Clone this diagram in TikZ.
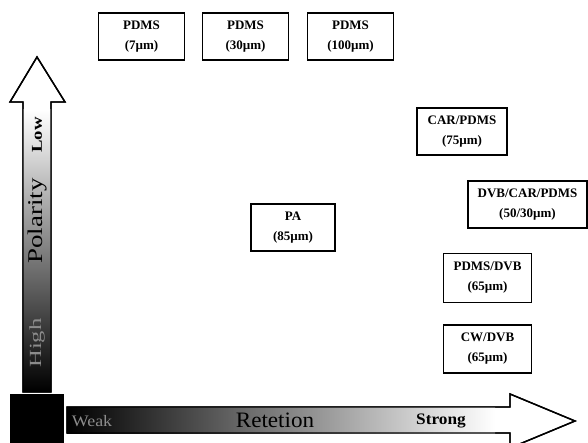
\documentclass[tikz,border=0pt]{standalone}
\usepackage{fontspec}
\setmainfont{Liberation Serif}
\usepackage{graphicx}
\begin{document}
\begin{tikzpicture}[x=1pt,y=-1pt,
  box/.style={draw,line width=1.6pt,minimum width=86pt,minimum height=47pt,align=center,inner sep=0pt,font=\bfseries\fontsize{13}{20}\selectfont},
  arrowline/.style={line width=1.4pt,line join=miter}]
\useasboundingbox (0,0) rectangle (588,443);
\clip (0,0) rectangle (588,443);
% vertical arrow
\draw[arrowline,fill=white] (23,392) -- (23,102) -- (10,102) -- (37,57) -- (65,102) -- (51,102) -- (51,392) -- cycle;
\shade[top color=white,bottom color=black] (23,391.3) rectangle (51,110);
\draw[arrowline] (23,392) -- (23,102) -- (10,102) -- (37,57) -- (65,102) -- (51,102) -- (51,392) -- cycle;
% horizontal arrow
\draw[arrowline,fill=white] (67,407) -- (510,407) -- (510,394) -- (575,421) -- (510,448) -- (510,433) -- (67,433) -- cycle;
\shade[left color=black,right color=white] (67,407) rectangle (495,433);
\draw[arrowline] (67,407) -- (510,407) -- (510,394) -- (575,421) -- (510,448) -- (510,433) -- (67,433) -- cycle;
% corner square
\fill[black] (10,394) rectangle (64,443);
% axis texts
\node[rotate=90,font=\bfseries\fontsize{15}{15}\selectfont] (low) at (37,135) {\scalebox{1.25}[1]{Low}};
\node[rotate=90,text=black,font=\fontsize{21}{21}\selectfont] (polarity) at (37,221) {\scalebox{1.28}[1]{Polarity}};
\node[rotate=90,text=black!45,font=\fontsize{17}{17}\selectfont] (high) at (37,343) {\scalebox{1.45}[1]{High}};
\node[text=black!45,font=\fontsize{16}{16}\selectfont] (weak) at (92,421) {\scalebox{1.12}[1]{Weak}};
\node[font=\fontsize{22}{22}\selectfont] (retetion) at (275,420) {\scalebox{1.05}[1]{Retetion}};
\node[font=\bfseries\fontsize{16}{16}\selectfont] (strong) at (441,421) {\scalebox{1.08}[1]{Strong}};
% boxes
\node[box] (pdms7) at (141.5,36.5) {PDMS\\(7µm)};
\node[box] (pdms30) at (245.5,36.5) {PDMS\\(30µm)};
\node[box] (pdms100) at (350.5,36.5) {PDMS\\(100µm)};
\node[box,minimum width=90pt] (carpdms) at (462,131.5) {CAR/PDMS\\(75µm)};
\node[box,minimum width=119pt] (dvbcarpdms) at (527.5,204.5) {DVB/CAR/PDMS\\(50/30µm)};
\node[box,minimum width=88pt,minimum height=49pt] (pdmsdvb) at (487.5,278) {PDMS/DVB\\(65µm)};
\node[box,minimum width=88pt,minimum height=48pt] (cwdvb) at (487.5,349) {CW/DVB\\(65µm)};
\node[box,minimum width=84pt] (pa) at (293,227.5) {PA\\(85µm)};
\end{tikzpicture}
\end{document}
